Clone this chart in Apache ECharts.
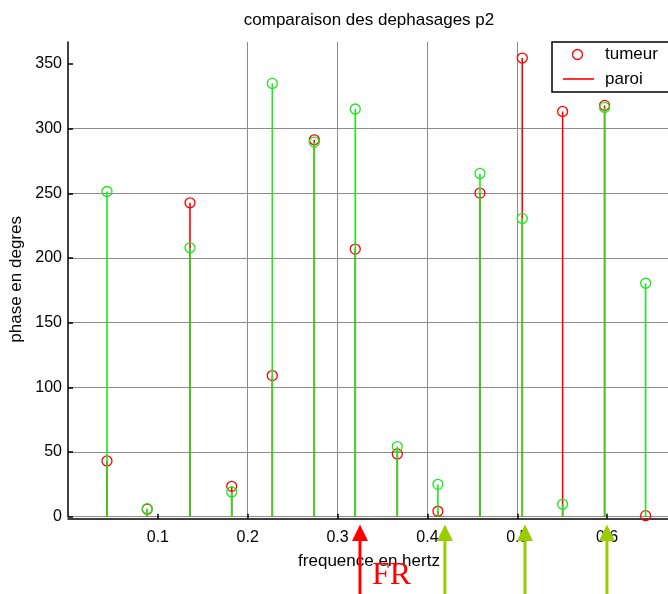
<!DOCTYPE html>
<html>
<head>
<meta charset="utf-8">
<script src="https://cdn.jsdelivr.net/npm/echarts@6/dist/echarts.min.js"></script>
<style>
html,body{margin:0;padding:0;background:#fff;}
#chart{width:668px;height:594px;}
</style>
</head>
<body>
<div id="chart"></div>
<script>
// ---- data ----
const freqs  = [0.0434, 0.0882, 0.1358, 0.1822, 0.2274, 0.2741, 0.3197, 0.3665, 0.4117, 0.4585, 0.5056, 0.5505, 0.5972, 0.6429];
const tumeur = [43.1, 5.8, 242.7, 23.5, 109.1, 291.4, 206.9, 48.5, 4.2, 250.2, 354.6, 313.3, 318.0, 0.8];
const paroi  = [251.4, 6.2, 207.9, 19.1, 335.0, 289.6, 315.2, 54.2, 25.0, 265.4, 230.6, 9.6, 316.4, 180.5];
const xTicks = [0.1, 0.2, 0.3, 0.4, 0.5, 0.6];
const yTicks = [0, 50, 100, 150, 200, 250, 300, 350];
const redArrowFreq = [0.325];
const greenArrowFreqs = [0.4195, 0.5086, 0.5998];
const titleText = 'comparaison des dephasages p2';
const xName = 'frequence en hertz';
const yName = 'phase en degres';
const legendNames = ['tumeur', 'paroi'];

const RED = '#ff0000';
const GREEN = '#1ee61e';
const FONT = "'Liberation Sans', Arial, sans-serif";

function pairs(vals) { return freqs.map((f, i) => [f, vals[i]]); }

function stemSeries(vals, color, z) {
  return {
    type: 'custom',
    z: z,
    data: pairs(vals),
    renderItem: function (params, api) {
      const p0 = api.coord([api.value(0), 0]);
      const p1 = api.coord([api.value(0), api.value(1)]);
      return {
        type: 'line',
        shape: { x1: p0[0], y1: p0[1], x2: p1[0], y2: p1[1] },
        style: { stroke: color, lineWidth: 1.6 }
      };
    }
  };
}
function markerSeries(vals, color, z) {
  return {
    type: 'scatter',
    z: z,
    data: pairs(vals),
    symbol: 'circle',
    symbolSize: 10,
    itemStyle: { color: 'transparent', borderColor: color, borderWidth: 1.3, opacity: 1 },
    emphasis: { disabled: true }
  };
}

const chart = echarts.init(document.getElementById('chart'), null, { renderer: 'canvas' });
chart.setOption({
  animation: false,
  backgroundColor: '#fff',
  title: {
    text: titleText,
    left: 369,
    textAlign: 'center',
    top: 12,
    padding: 0,
    textStyle: { fontFamily: FONT, fontSize: 17, fontWeight: 'normal', color: '#000' }
  },
  grid: { left: 68, top: 42, width: 602, height: 474.7, containLabel: false, outerBoundsMode: 'none' },
  xAxis: {
    type: 'value',
    min: 0, max: 0.67, interval: 0.1,
    offset: 2,
    name: xName,
    nameLocation: 'middle',
    nameGap: 34,
    nameTextStyle: { fontFamily: FONT, fontSize: 17, color: '#000' },
    axisLine: { show: true, onZero: false, lineStyle: { color: '#000', width: 1.5 } },
    axisTick: { show: true, inside: true, length: 5, customValues: xTicks, lineStyle: { color: '#000', width: 1.5 } },
    axisLabel: { customValues: xTicks, margin: 11, fontFamily: FONT, fontSize: 16, color: '#000',
                 formatter: v => String(Math.round(v * 10) / 10) },
    splitLine: { show: true, showMinLine: false, showMaxLine: false, lineStyle: { color: '#8c8c8c', width: 1 } }
  },
  yAxis: {
    type: 'value',
    min: 0, max: 367, interval: 50,
    name: yName,
    nameLocation: 'middle',
    nameRotate: 90,
    nameGap: 38,
    nameTextStyle: { fontFamily: FONT, fontSize: 17, color: '#000' },
    axisLine: { show: true, lineStyle: { color: '#000', width: 1.5 } },
    axisTick: { show: true, inside: true, length: 5, customValues: yTicks, lineStyle: { color: '#000', width: 1.5 } },
    axisLabel: { customValues: yTicks, margin: 6, fontFamily: FONT, fontSize: 16, color: '#000' },
    splitLine: { show: true, showMinLine: true, showMaxLine: false, lineStyle: { color: '#8c8c8c', width: 1 } }
  },
  series: [
    stemSeries(tumeur, RED, 2),
    markerSeries(tumeur, RED, 3),
    stemSeries(paroi, GREEN, 4),
    markerSeries(paroi, GREEN, 5)
  ]
});

// ---- annotations: legend box and arrows ----
function arrow(f, color, z) {
  const x = chart.convertToPixel({ xAxisIndex: 0 }, f);
  const tipY = 524.5, baseY = 541, bottom = 600;
  return [
    { type: 'line', z: z, shape: { x1: x, y1: baseY - 1, x2: x, y2: bottom }, style: { stroke: color, lineWidth: 3 } },
    { type: 'polygon', z: z, shape: { points: [[x, tipY], [x - 8, baseY], [x + 8, baseY]] }, style: { fill: color } }
  ];
}
const graphics = [];
// legend
graphics.push({ type: 'rect', z: 100, shape: { x: 552, y: 42, width: 130, height: 50 },
  style: { fill: '#fff', stroke: '#000', lineWidth: 1.5 } });
graphics.push({ type: 'circle', z: 101, shape: { cx: 577.5, cy: 54.5, r: 5 },
  style: { fill: 'none', stroke: RED, lineWidth: 1.3 } });
graphics.push({ type: 'text', z: 101, style: { text: legendNames[0], x: 605, y: 54.5, textVerticalAlign: 'middle',
  verticalAlign: 'middle', fontFamily: FONT, fontSize: 17, fill: '#000' } });
graphics.push({ type: 'line', z: 101, shape: { x1: 563, y1: 79, x2: 594, y2: 79 },
  style: { stroke: RED, lineWidth: 1.6 } });
graphics.push({ type: 'text', z: 101, style: { text: legendNames[1], x: 605, y: 79, textVerticalAlign: 'middle',
  verticalAlign: 'middle', fontFamily: FONT, fontSize: 17, fill: '#000' } });
// arrows
redArrowFreq.forEach(f => arrow(f, '#ff0000', 110).forEach(g => graphics.push(g)));
greenArrowFreqs.forEach(f => arrow(f, '#99cc00', 110).forEach(g => graphics.push(g)));
graphics.push({ type: 'text', z: 111, style: { text: 'FR', x: 372, y: 576, verticalAlign: 'middle', textVerticalAlign: 'middle',
  fontFamily: "'Liberation Serif', 'Times New Roman', serif", fontSize: 32, fill: '#ff0000' } });
chart.setOption({ graphic: { elements: graphics } });
</script>
</body>
</html>
